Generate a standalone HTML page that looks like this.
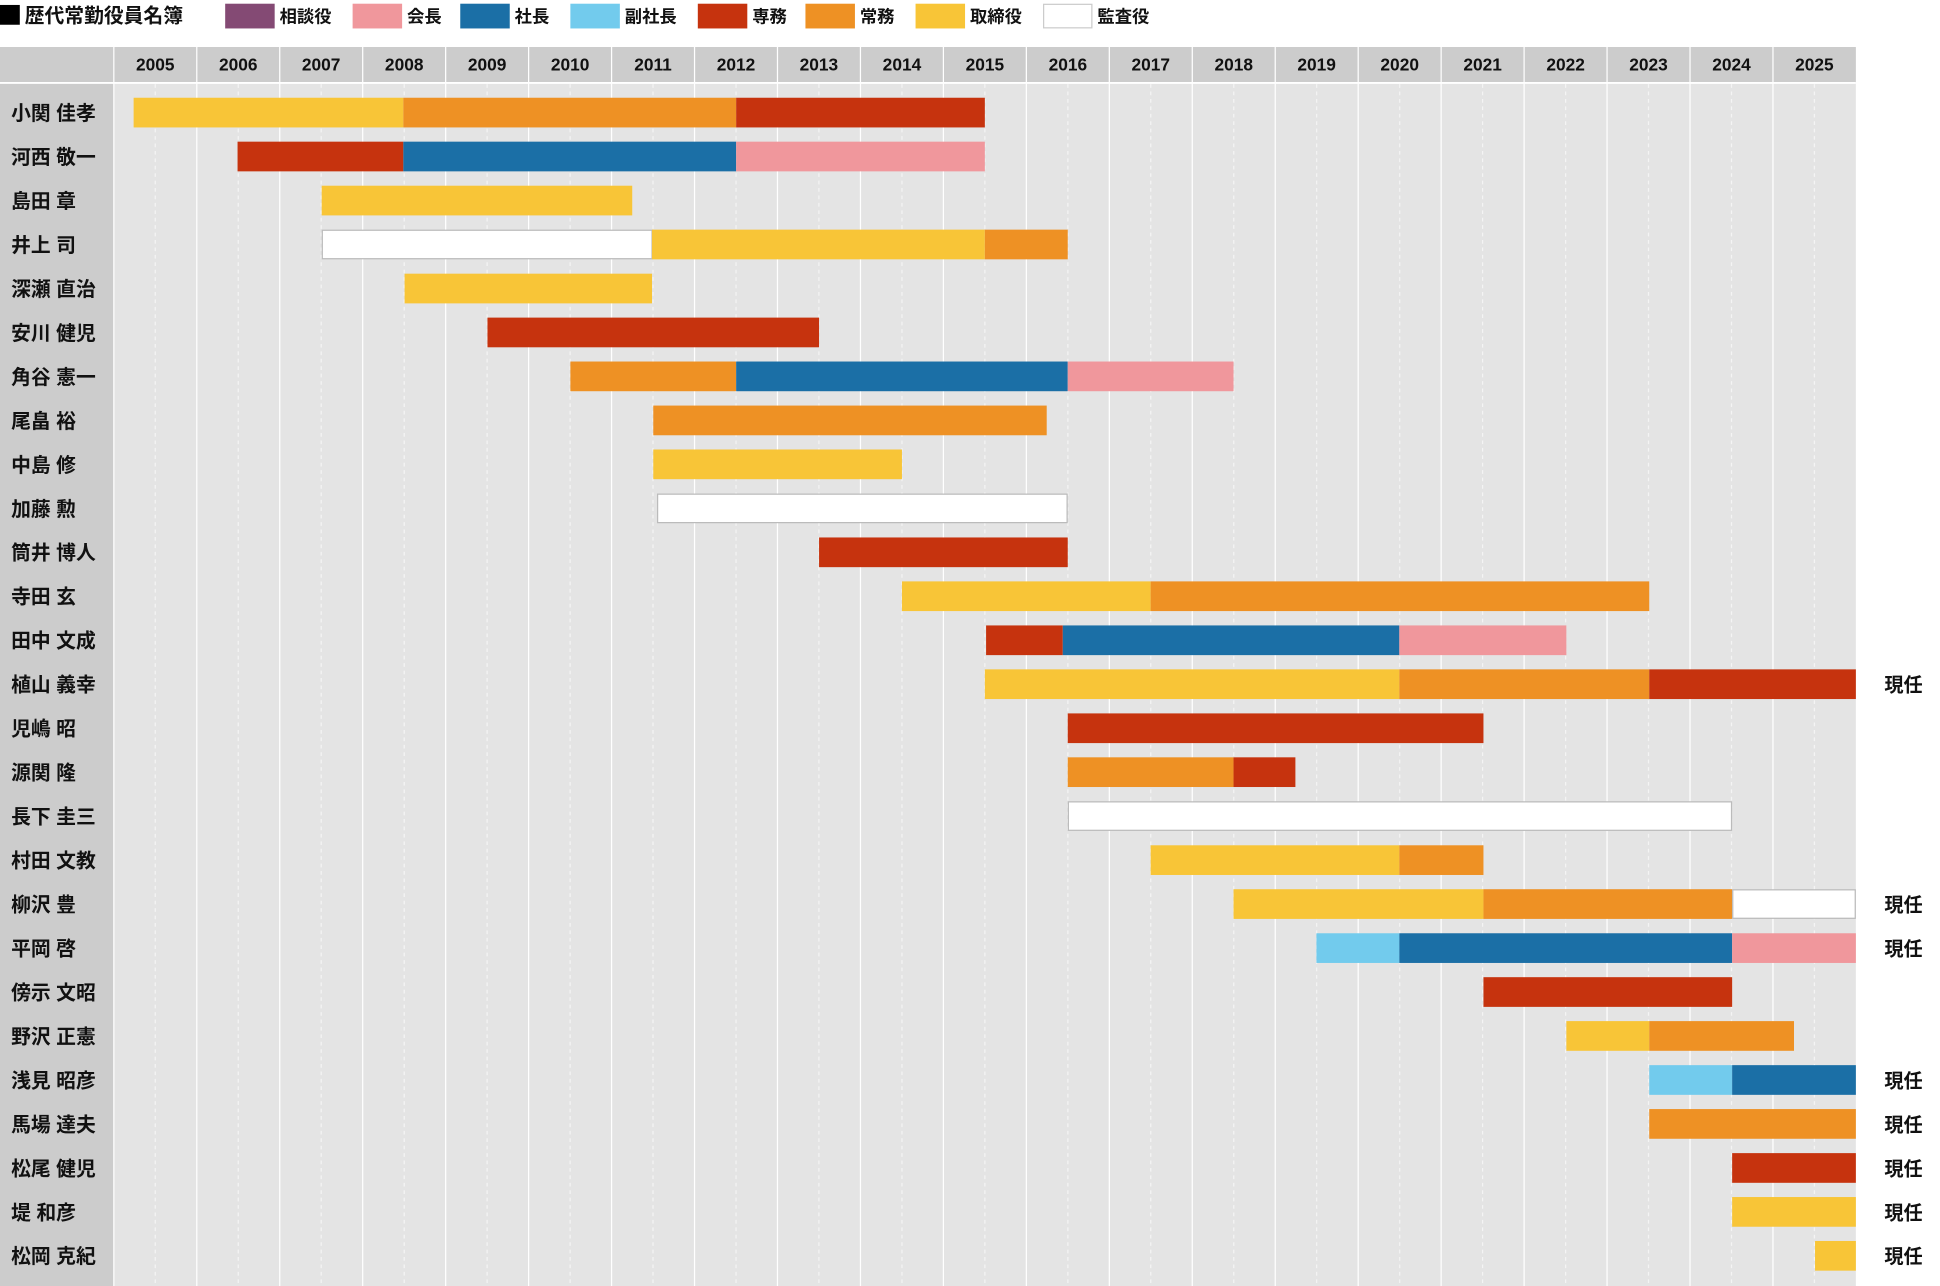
<!DOCTYPE html>
<html><head><meta charset="utf-8"><style>
html,body{margin:0;padding:0;background:#fff;}
svg{display:block;}
text{font-family:"Liberation Sans","Noto Sans CJK JP",sans-serif;}
</style></head><body>
<svg width="1940" height="1286" viewBox="0 0 1568 1039.4" preserveAspectRatio="none" xmlns="http://www.w3.org/2000/svg">
<!-- legend -->
<rect x="0" y="4" width="16" height="16" fill="#000"/>
<text x="20" y="18" font-size="16" font-weight="bold" fill="#111">歴代常勤役員名簿</text>
<g font-size="14" font-weight="bold" fill="#111">
<rect x="182" y="3" width="40" height="20" fill="#844a74"/><text x="226" y="18">相談役</text>
<rect x="285" y="3" width="40" height="20" fill="#f0979c"/><text x="329" y="18">会長</text>
<rect x="372" y="3" width="40" height="20" fill="#1b6fa6"/><text x="416" y="18">社長</text>
<rect x="461" y="3" width="40" height="20" fill="#72cbed"/><text x="505" y="18">副社長</text>
<rect x="564" y="3" width="40" height="20" fill="#c6330e"/><text x="608" y="18">専務</text>
<rect x="651" y="3" width="40" height="20" fill="#ee9124"/><text x="695" y="18">常務</text>
<rect x="740" y="3" width="40" height="20" fill="#f8c537"/><text x="784" y="18">取締役</text>
<rect x="843.5" y="3.5" width="39" height="19" fill="#fff" stroke="#ccc"/><text x="887" y="18">監査役</text>
</g>
<!-- backgrounds -->
<rect x="0" y="38" width="1500" height="29" fill="#cccccc"/>
<rect x="0" y="67" width="92" height="972.4" fill="#cccccc"/>
<rect x="92" y="67" width="1408" height="972.4" fill="#e4e4e4"/>
<line x1="0" y1="67" x2="1500" y2="67" stroke="#fff" stroke-width="1.5"/>
<!-- grid -->
<g stroke="#fff" stroke-width="1">
<line x1="92" y1="38" x2="92" y2="1040"/>
<line x1="159.05" y1="38" x2="159.05" y2="1040"/><line x1="226.1" y1="38" x2="226.1" y2="1040"/><line x1="293.15" y1="38" x2="293.15" y2="1040"/><line x1="360.2" y1="38" x2="360.2" y2="1040"/><line x1="427.25" y1="38" x2="427.25" y2="1040"/><line x1="494.3" y1="38" x2="494.3" y2="1040"/><line x1="561.35" y1="38" x2="561.35" y2="1040"/><line x1="628.4" y1="38" x2="628.4" y2="1040"/><line x1="695.45" y1="38" x2="695.45" y2="1040"/><line x1="762.5" y1="38" x2="762.5" y2="1040"/><line x1="829.55" y1="38" x2="829.55" y2="1040"/><line x1="896.6" y1="38" x2="896.6" y2="1040"/><line x1="963.65" y1="38" x2="963.65" y2="1040"/><line x1="1030.7" y1="38" x2="1030.7" y2="1040"/><line x1="1097.75" y1="38" x2="1097.75" y2="1040"/><line x1="1164.8" y1="38" x2="1164.8" y2="1040"/><line x1="1231.85" y1="38" x2="1231.85" y2="1040"/><line x1="1298.9" y1="38" x2="1298.9" y2="1040"/><line x1="1365.95" y1="38" x2="1365.95" y2="1040"/><line x1="1433" y1="38" x2="1433" y2="1040"/>
</g>
<g stroke="#f4f4f4" stroke-width="1" stroke-dasharray="3,3">
<line x1="125.5" y1="68" x2="125.5" y2="1040"/><line x1="192.6" y1="68" x2="192.6" y2="1040"/><line x1="259.6" y1="68" x2="259.6" y2="1040"/><line x1="326.7" y1="68" x2="326.7" y2="1040"/><line x1="393.7" y1="68" x2="393.7" y2="1040"/><line x1="460.8" y1="68" x2="460.8" y2="1040"/><line x1="527.8" y1="68" x2="527.8" y2="1040"/><line x1="594.9" y1="68" x2="594.9" y2="1040"/><line x1="661.9" y1="68" x2="661.9" y2="1040"/><line x1="729" y1="68" x2="729" y2="1040"/><line x1="796" y1="68" x2="796" y2="1040"/><line x1="863.1" y1="68" x2="863.1" y2="1040"/><line x1="930.1" y1="68" x2="930.1" y2="1040"/><line x1="997.2" y1="68" x2="997.2" y2="1040"/><line x1="1064.2" y1="68" x2="1064.2" y2="1040"/><line x1="1131.3" y1="68" x2="1131.3" y2="1040"/><line x1="1198.3" y1="68" x2="1198.3" y2="1040"/><line x1="1265.4" y1="68" x2="1265.4" y2="1040"/><line x1="1332.4" y1="68" x2="1332.4" y2="1040"/><line x1="1399.5" y1="68" x2="1399.5" y2="1040"/><line x1="1466.5" y1="68" x2="1466.5" y2="1040"/>
</g>
<!-- years -->
<g font-size="14" font-weight="bold" fill="#111" text-anchor="middle">
<text x="125.5" y="57">2005</text><text x="192.6" y="57">2006</text><text x="259.6" y="57">2007</text><text x="326.7" y="57">2008</text><text x="393.7" y="57">2009</text><text x="460.8" y="57">2010</text><text x="527.8" y="57">2011</text><text x="594.9" y="57">2012</text><text x="661.9" y="57">2013</text><text x="729" y="57">2014</text><text x="796" y="57">2015</text><text x="863.1" y="57">2016</text><text x="930.1" y="57">2017</text><text x="997.2" y="57">2018</text><text x="1064.2" y="57">2019</text><text x="1131.3" y="57">2020</text><text x="1198.3" y="57">2021</text><text x="1265.4" y="57">2022</text><text x="1332.4" y="57">2023</text><text x="1399.5" y="57">2024</text><text x="1466.5" y="57">2025</text>
</g>
<!-- names -->
<g font-size="16" font-weight="bold" fill="#111">
<text x="9" y="97">小関 佳孝</text>
<text x="9" y="132.5">河西 敬一</text>
<text x="9" y="168.1">島田 章</text>
<text x="9" y="203.6">井上 司</text>
<text x="9" y="239.2">深瀬 直治</text>
<text x="9" y="274.7">安川 健児</text>
<text x="9" y="310.2">角谷 憲一</text>
<text x="9" y="345.8">尾畠 裕</text>
<text x="9" y="381.3">中島 修</text>
<text x="9" y="416.9">加藤 勲</text>
<text x="9" y="452.4">筒井 博人</text>
<text x="9" y="487.9">寺田 玄</text>
<text x="9" y="523.5">田中 文成</text>
<text x="9" y="559">植山 義幸</text>
<text x="9" y="594.6">児嶋 昭</text>
<text x="9" y="630.1">源関 隆</text>
<text x="9" y="665.6">長下 圭三</text>
<text x="9" y="701.2">村田 文教</text>
<text x="9" y="736.7">柳沢 豊</text>
<text x="9" y="772.3">平岡 啓</text>
<text x="9" y="807.8">傍示 文昭</text>
<text x="9" y="843.3">野沢 正憲</text>
<text x="9" y="878.9">浅見 昭彦</text>
<text x="9" y="914.4">馬場 達夫</text>
<text x="9" y="950">松尾 健児</text>
<text x="9" y="985.5">堤 和彦</text>
<text x="9" y="1021">松岡 克紀</text>
</g>
<!-- bars -->
<g>
<rect x="108" y="79" width="218" height="24" fill="#f8c537"/><rect x="326" y="79" width="269" height="24" fill="#ee9124"/><rect x="595" y="79" width="201" height="24" fill="#c6330e"/>
<rect x="192" y="114.5" width="134" height="24" fill="#c6330e"/><rect x="326" y="114.5" width="269" height="24" fill="#1b6fa6"/><rect x="595" y="114.5" width="201" height="24" fill="#f0979c"/>
<rect x="260" y="150.1" width="251" height="24" fill="#f8c537"/>
<rect x="260.5" y="186.1" width="266.5" height="23" fill="#fff" stroke="#bbb"/><rect x="527" y="185.6" width="269" height="24" fill="#f8c537"/><rect x="796" y="185.6" width="67" height="24" fill="#ee9124"/>
<rect x="327" y="221.2" width="200" height="24" fill="#f8c537"/>
<rect x="394" y="256.7" width="268" height="24" fill="#c6330e"/>
<rect x="461" y="292.2" width="134" height="24" fill="#ee9124"/><rect x="595" y="292.2" width="268" height="24" fill="#1b6fa6"/><rect x="863" y="292.2" width="134" height="24" fill="#f0979c"/>
<rect x="528" y="327.8" width="318" height="24" fill="#ee9124"/>
<rect x="528" y="363.3" width="201" height="24" fill="#f8c537"/>
<rect x="531.5" y="399.4" width="331" height="23" fill="#fff" stroke="#bbb"/>
<rect x="662" y="434.4" width="201" height="24" fill="#c6330e"/>
<rect x="729" y="469.9" width="201" height="24" fill="#f8c537"/><rect x="930" y="469.9" width="403" height="24" fill="#ee9124"/>
<rect x="797" y="505.5" width="62" height="24" fill="#c6330e"/><rect x="859" y="505.5" width="272" height="24" fill="#1b6fa6"/><rect x="1131" y="505.5" width="135" height="24" fill="#f0979c"/>
<rect x="796" y="541" width="335" height="24" fill="#f8c537"/><rect x="1131" y="541" width="202" height="24" fill="#ee9124"/><rect x="1333" y="541" width="167" height="24" fill="#c6330e"/>
<rect x="863" y="576.6" width="336" height="24" fill="#c6330e"/>
<rect x="863" y="612.1" width="134" height="24" fill="#ee9124"/><rect x="997" y="612.1" width="50" height="24" fill="#c6330e"/>
<rect x="863.5" y="648.1" width="536" height="23" fill="#fff" stroke="#bbb"/>
<rect x="930" y="683.2" width="201" height="24" fill="#f8c537"/><rect x="1131" y="683.2" width="68" height="24" fill="#ee9124"/>
<rect x="997" y="718.7" width="202" height="24" fill="#f8c537"/><rect x="1199" y="718.7" width="201" height="24" fill="#ee9124"/><rect x="1400.5" y="719.2" width="99" height="23" fill="#fff" stroke="#bbb"/>
<rect x="1064" y="754.3" width="67" height="24" fill="#72cbed"/><rect x="1131" y="754.3" width="269" height="24" fill="#1b6fa6"/><rect x="1400" y="754.3" width="100" height="24" fill="#f0979c"/>
<rect x="1199" y="789.8" width="201" height="24" fill="#c6330e"/>
<rect x="1266" y="825.3" width="67" height="24" fill="#f8c537"/><rect x="1333" y="825.3" width="117" height="24" fill="#ee9124"/>
<rect x="1333" y="860.9" width="67" height="24" fill="#72cbed"/><rect x="1400" y="860.9" width="100" height="24" fill="#1b6fa6"/>
<rect x="1333" y="896.4" width="167" height="24" fill="#ee9124"/>
<rect x="1400" y="932" width="100" height="24" fill="#c6330e"/>
<rect x="1400" y="967.5" width="100" height="24" fill="#f8c537"/>
<rect x="1467" y="1003" width="33" height="24" fill="#f8c537"/>
</g>
<g font-size="15.5" font-weight="bold" fill="#111">
<text x="1523" y="559">現任</text>
<text x="1523" y="736.7">現任</text>
<text x="1523" y="772.3">現任</text>
<text x="1523" y="878.9">現任</text>
<text x="1523" y="914.4">現任</text>
<text x="1523" y="950">現任</text>
<text x="1523" y="985.5">現任</text>
<text x="1523" y="1021">現任</text>
</g>
</svg>
</body></html>
